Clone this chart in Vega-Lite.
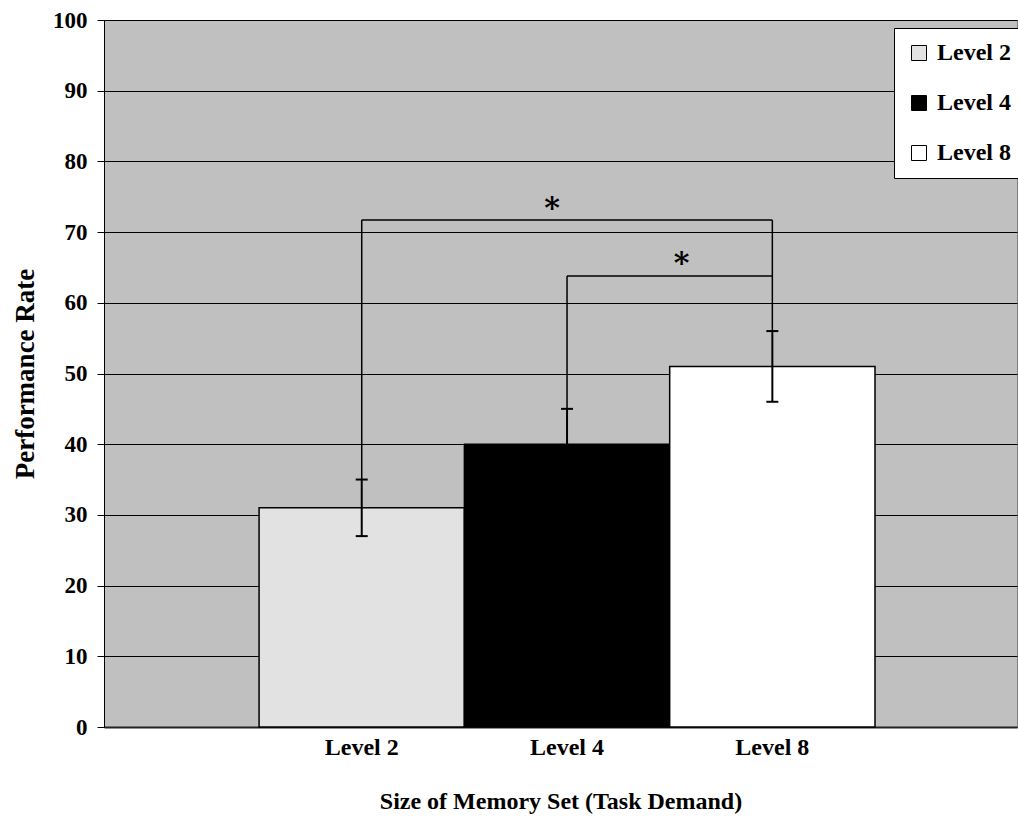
{
  "$schema": "https://vega.github.io/schema/vega-lite/v6.json",
  "width": 913,
  "height": 707,
  "autosize": {"type": "none"},
  "padding": {"left": 104, "top": 20, "right": 1, "bottom": 92},
  "background": "white",
  "config": {
    "view": {"fill": "#c0c0c0", "stroke": "#808080", "strokeWidth": 1},
    "font": "Liberation Serif",
    "style": {
      "guide-label": {"font": "Liberation Serif", "fontWeight": "bold", "fontSize": 23, "fill": "black"},
      "guide-title": {"font": "Liberation Serif", "fontWeight": "bold", "fill": "black"}
    },
    "axis": {
      "labelFont": "Liberation Serif", "labelFontWeight": "bold", "labelFontSize": 23, "labelColor": "black",
      "titleFont": "Liberation Serif", "titleFontWeight": "bold", "titleColor": "black"
    },
    "axisX": {"domainColor": "#222222", "domainWidth": 2, "ticks": false, "grid": false, "labelAngle": 0, "labelPadding": 8, "titleFontSize": 24, "titlePadding": 30},
    "axisY": {"domainColor": "black", "domainWidth": 1, "tickColor": "black", "tickSize": 7, "gridColor": "black", "gridWidth": 1, "labelPadding": 10, "titleFontSize": 27, "titlePadding": 13},
    "legend": {
      "orient": "none", "legendX": 790, "legendY": 8, "fillColor": "white", "strokeColor": "black", "padding": 13,
      "labelFont": "Liberation Serif", "labelFontWeight": "bold", "labelFontSize": 24, "labelColor": "black",
      "symbolType": "square", "symbolSize": 225, "symbolStrokeColor": "black", "symbolStrokeWidth": 1,
      "rowPadding": 26, "labelOffset": 6
    }
  },
  "datasets": {
    "bars": [
      {"level": "Level 2", "rate": 31, "low": 27, "high": 35},
      {"level": "Level 4", "rate": 40, "low": 35, "high": 45},
      {"level": "Level 8", "rate": 51, "low": 46, "high": 56}
    ],
    "hbr": [
      {"from": "Level 2", "to": "Level 8", "y": 71.7},
      {"from": "Level 4", "to": "Level 8", "y": 63.8}
    ],
    "vbr": [
      {"level": "Level 2", "y1": 35, "y2": 71.7},
      {"level": "Level 8", "y1": 56, "y2": 71.7},
      {"level": "Level 4", "y1": 45, "y2": 63.8}
    ],
    "star1": [{"level": "Level 4", "y": 72.0, "sig": "*"}],
    "star2": [{"level": "Level 4", "y": 64.2, "sig": "*"}]
  },
  "layer": [
    {
      "data": {"name": "bars"},
      "mark": {"type": "bar", "stroke": "black", "strokeWidth": 1.5},
      "encoding": {
        "x": {"field": "level", "type": "nominal", "title": "Size of Memory Set (Task Demand)",
          "scale": {"type": "band", "domain": ["Level 2", "Level 4", "Level 8"], "paddingInner": 0, "paddingOuter": 0.7235, "align": 0.522},
          "axis": {"labelFont": "Liberation Serif", "labelFontWeight": "bold", "labelFontSize": 24, "labelColor": "black"}},
        "y": {"field": "rate", "type": "quantitative", "title": "Performance Rate", "scale": {"domain": [0, 100], "nice": false},
          "axis": {"values": [0, 10, 20, 30, 40, 50, 60, 70, 80, 90, 100], "labelFont": "Liberation Serif", "labelFontWeight": "bold", "labelFontSize": 23, "labelColor": "black"}},
        "color": {"field": "level", "type": "nominal", "scale": {"domain": ["Level 2", "Level 4", "Level 8"], "range": ["#e2e2e2", "#000000", "#ffffff"]},
          "legend": {"title": null, "labelFont": "Liberation Serif", "labelFontWeight": "bold", "labelFontSize": 24, "labelColor": "black"}}
      }
    },
    {
      "data": {"name": "bars"},
      "mark": {"type": "rule", "color": "black", "strokeWidth": 2},
      "encoding": {
        "x": {"field": "level", "type": "nominal", "title": "Size of Memory Set (Task Demand)"},
        "y": {"field": "low", "type": "quantitative", "title": "Performance Rate"},
        "y2": {"field": "high"}
      }
    },
    {
      "data": {"name": "bars"},
      "mark": {"type": "tick", "color": "black", "size": 12, "thickness": 2, "opacity": 1},
      "encoding": {
        "x": {"field": "level", "type": "nominal", "title": "Size of Memory Set (Task Demand)"},
        "y": {"field": "low", "type": "quantitative", "title": "Performance Rate"}
      }
    },
    {
      "data": {"name": "bars"},
      "mark": {"type": "tick", "color": "black", "size": 12, "thickness": 2, "opacity": 1},
      "encoding": {
        "x": {"field": "level", "type": "nominal", "title": "Size of Memory Set (Task Demand)"},
        "y": {"field": "high", "type": "quantitative", "title": "Performance Rate"}
      }
    },
    {
      "data": {"name": "hbr"},
      "mark": {"type": "rule", "color": "black", "strokeWidth": 1.5},
      "encoding": {
        "x": {"field": "from", "type": "nominal", "title": "Size of Memory Set (Task Demand)"},
        "x2": {"field": "to"},
        "y": {"field": "y", "type": "quantitative", "title": "Performance Rate"}
      }
    },
    {
      "data": {"name": "vbr"},
      "mark": {"type": "rule", "color": "black", "strokeWidth": 1.5},
      "encoding": {
        "x": {"field": "level", "type": "nominal", "title": "Size of Memory Set (Task Demand)"},
        "y": {"field": "y1", "type": "quantitative", "title": "Performance Rate"},
        "y2": {"field": "y2"}
      }
    },
    {
      "data": {"name": "star1"},
      "mark": {"type": "text", "color": "black", "font": "DejaVu Serif", "fontWeight": "bold", "fontSize": 30, "baseline": "alphabetic", "dx": -15},
      "encoding": {
        "x": {"field": "level", "type": "nominal", "title": "Size of Memory Set (Task Demand)"},
        "y": {"field": "y", "type": "quantitative", "title": "Performance Rate"},
        "text": {"field": "sig"}
      }
    },
    {
      "data": {"name": "star2"},
      "mark": {"type": "text", "color": "black", "font": "DejaVu Serif", "fontWeight": "bold", "fontSize": 30, "baseline": "alphabetic", "dx": 12},
      "encoding": {
        "x": {"field": "level", "type": "nominal", "bandPosition": 1, "title": "Size of Memory Set (Task Demand)"},
        "y": {"field": "y", "type": "quantitative", "title": "Performance Rate"},
        "text": {"field": "sig"}
      }
    }
  ]
}
